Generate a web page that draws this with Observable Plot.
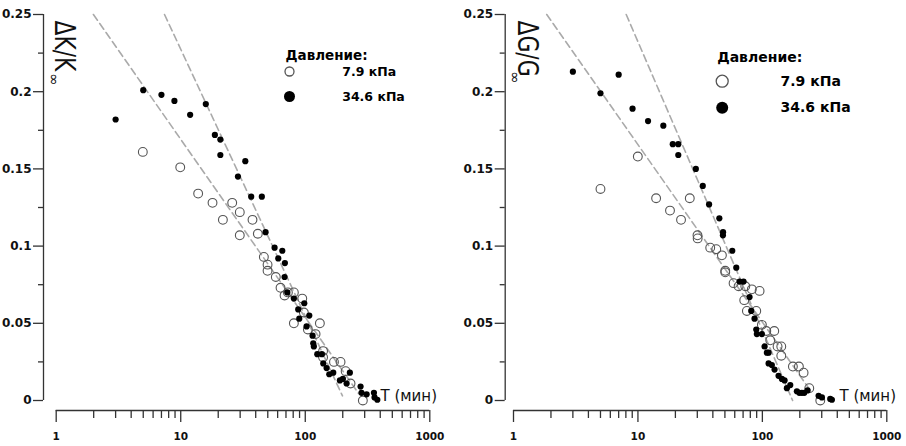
<!DOCTYPE html>
<html><head><meta charset="utf-8">
<script src="https://cdn.jsdelivr.net/npm/d3@7"></script>
<script src="https://cdn.jsdelivr.net/npm/@observablehq/plot@0.6"></script>
<style>
body{margin:0;background:#fff;}
#wrap{display:flex;width:906px;height:446px;}
</style></head><body><div id="wrap"></div>
<script>
// ---- axis ticks ----
const xTicks = [1, 10, 100, 1000];
const xTickLabels = ["1", "10", "100", "1000"];
const xMinor = [2,3,4,5,6,7,8,9,20,30,40,50,60,70,80,90,200,300,400,500,600,700,800,900];
const yTicks = [0, 0.05, 0.1, 0.15, 0.2, 0.25];
const yTickLabels = ["0", "0.05", "0.1", "0.15", "0.2", "0.25"];
const yMinor = [0.025, 0.075, 0.125, 0.175, 0.225];

// ---- texts ----
const legendTitle = "Давление:";
const seriesNames = ["7.9 кПа", "34.6 кПа"];
const xLabel = "T (мин)";
const yLabels = ["ΔK/K", "ΔG/G"];

// ---- ΔK/K∞ : 7.9 kPa (open) ----
const kLowT = [4.96,9.91,13.8,18.0,25.9,29.8,21.8,37.7,29.8,41.6,46.5,49.8,49.8,58.0,63.3,72.5,81.0,68.2,94.6,97.4,81.0,131,105,121,139,139,170,192,211,231,290];
const kLowV = [0.161,0.151,0.134,0.128,0.128,0.122,0.117,0.117,0.107,0.108,0.093,0.088,0.084,0.080,0.073,0.070,0.070,0.068,0.066,0.057,0.050,0.050,0.046,0.043,0.032,0.028,0.025,0.025,0.019,0.011,0.000];
// ---- ΔK/K∞ : 34.6 kPa (filled) ----
const kHighT = [3.0,5.0,7.0,8.9,11.9,15.9,18.8,20.8,20.8,33.0,28.8,36.8,44.8,48.0,56.7,65.4,60.7,68.6,68.2,71.7,81.0,87.8,98.2,89.5,107.7,102.4,114.4,115.9,117.2,124.9,135.9,139.5,148.3,155.9,167.8,189.7,200.5,214.7,228.1,278,283,311,356,360,379];
const kHighV = [0.182,0.201,0.198,0.194,0.185,0.192,0.172,0.169,0.159,0.155,0.145,0.132,0.132,0.109,0.099,0.097,0.092,0.089,0.080,0.070,0.066,0.059,0.063,0.053,0.055,0.048,0.042,0.037,0.035,0.030,0.030,0.024,0.021,0.017,0.018,0.013,0.014,0.011,0.018,0.009,0.005,0.004,0.005,0.002,0.0005];
// ---- ΔG/G∞ : 7.9 kPa (open) ----
const gLowT = [5.0,9.98,14.0,26.1,18.1,22.2,30.1,30.2,38.1,42.6,47.3,50.3,50.3,58.7,64.4,72.9,82.3,95.0,71.5,75.1,89.3,99.1,107.5,124.6,115.7,132.5,141.9,141.9,175.9,196.6,214.4,238.2,292];
const gLowV = [0.137,0.158,0.131,0.131,0.123,0.117,0.107,0.105,0.099,0.098,0.094,0.084,0.083,0.076,0.074,0.074,0.072,0.071,0.065,0.058,0.058,0.049,0.045,0.045,0.039,0.035,0.035,0.029,0.022,0.022,0.018,0.008,0.000];
// ---- ΔG/G∞ : 34.6 kPa (filled) ----
const gHighT = [3.0,5.0,7.0,9.05,12.06,16.0,19.05,21.1,21.1,29.2,33.2,37.3,45.1,48.3,48.2,57.3,61.7,65.6,70.6,78.9,81.4,86.5,89.3,90.3,99.1,104.2,108.7,112.2,112.2,119.2,125.3,134.9,143.5,150.8,157.4,167.6,189.4,198,207.7,217.2,230.8,283,301,351,362];
const gHighV = [0.213,0.199,0.211,0.189,0.181,0.178,0.166,0.166,0.159,0.150,0.139,0.127,0.118,0.109,0.107,0.097,0.086,0.077,0.077,0.067,0.058,0.053,0.046,0.043,0.043,0.035,0.031,0.031,0.024,0.023,0.020,0.016,0.014,0.013,0.008,0.010,0.006,0.005,0.005,0.005,0.0065,0.003,0.002,0.001,0.0005];

// ---- dashed guide lines (endpoints) ----
const kFitAT = [1.99, 268], kFitAV = [0.25, 0.0045];
const kFitBT = [7.41, 199], kFitBV = [0.25, 0.003];
const gFitAT = [1.85, 250], gFitAV = [0.25, 0.005];
const gFitBT = [8.05, 175], gFitBV = [0.25, 0.0];

const zip = (T, V) => T.map((t, i) => ({T: t, V: V[i]}));
const FONT = "'DejaVu Sans', Verdana, sans-serif";

function panel(cfg) {
  const fits = [
    ...zip(cfg.fitA[0], cfg.fitA[1]).map(d => ({...d, k: "A"})),
    ...zip(cfg.fitB[0], cfg.fitB[1]).map(d => ({...d, k: "B"}))
  ];
  const L = cfg.leg;
  const svg = Plot.plot({
    width: 453, height: 446,
    marginLeft: cfg.ml, marginRight: cfg.mr, marginTop: 14, marginBottom: 46,
    x: {type: "log", domain: [1, 1000]},
    y: {domain: [0, 0.25]},
    style: {fontFamily: FONT, background: "white", overflow: "visible"},
    marks: [
      // axes
      Plot.ruleX([1], {dx: cfg.ydx, stroke: "#333", strokeWidth: 1.3}),
      Plot.axisY(yTicks, {tickSize: 10, tickPadding: 2, dx: cfg.ydx, stroke: "#333", strokeWidth: 1.3,
        tickFormat: d => yTickLabels[yTicks.indexOf(d)], fontSize: 12, fontWeight: "bold", fill: "#111", label: null}),
      Plot.axisY(yMinor, {tickSize: 5, dx: cfg.ydx, stroke: "#333", strokeWidth: 1.3, tickFormat: () => "", label: null}),
      Plot.ruleY([0], {dy: 10, stroke: "#333", strokeWidth: 1.3}),
      Plot.axisX(xTicks, {tickSize: 12, tickPadding: 10, dy: 10, stroke: "#333", strokeWidth: 1.3,
        tickFormat: d => xTickLabels[xTicks.indexOf(d)], fontSize: 10.5, fontWeight: "bold", fill: "#111", label: null}),
      Plot.axisX(xMinor, {tickSize: 8, dy: 10, stroke: "#333", strokeWidth: 1.3, tickFormat: () => "", label: null}),
      // dashed guide lines
      Plot.line(fits, {x: "T", y: "V", z: "k", stroke: "#aaa", strokeWidth: 1.6, strokeDasharray: "7,4"}),
      // data
      Plot.dot(cfg.low, {x: "T", y: "V", r: 4.4, stroke: "#555", strokeWidth: 1.1, fill: "none"}),
      Plot.dot(cfg.high, {x: "T", y: "V", r: 3.1, fill: "#000", stroke: "none"}),
      // axis labels
      Plot.text([cfg.ylab], {frameAnchor: "top-left", dx: cfg.ylabDx, dy: 6, rotate: 90, textAnchor: "start",
        lineAnchor: "middle", fontSize: 28, fill: "#111", text: d => d}),
      Plot.text(["∞"], {frameAnchor: "top-left", dx: cfg.infDx, dy: cfg.infDy, rotate: 90, textAnchor: "middle",
        lineAnchor: "middle", fontSize: 15, fill: "#111", text: d => d}),
      Plot.text([xLabel], {frameAnchor: "bottom-left", dx: cfg.tDx, dy: -4, textAnchor: "start",
        lineAnchor: "middle", fontSize: 15, fill: "#111", text: d => d}),
      // legend
      Plot.text([legendTitle], {frameAnchor: "top-left", dx: L.tx, dy: L.ty, textAnchor: "start", lineAnchor: "middle",
        fontSize: L.fsT, fontWeight: "bold", fill: "#000", text: d => d}),
      Plot.dot([0], {frameAnchor: "top-left", dx: L.cx, dy: L.y1, r: L.r1, stroke: "#555", strokeWidth: 1.3, fill: "none"}),
      Plot.dot([0], {frameAnchor: "top-left", dx: L.cx, dy: L.y2, r: L.r2, fill: "#000"}),
      Plot.text([seriesNames[0]], {frameAnchor: "top-left", dx: L.lx, dy: L.y1, textAnchor: "start", lineAnchor: "middle",
        fontSize: L.fs, fontWeight: "bold", fill: "#000", text: d => d}),
      Plot.text([seriesNames[1]], {frameAnchor: "top-left", dx: L.lx, dy: L.y2, textAnchor: "start", lineAnchor: "middle",
        fontSize: L.fs, fontWeight: "bold", fill: "#000", text: d => d})
    ]
  });
  // condense the rotated y label along its reading direction
  d3.select(svg).selectAll("text").filter(function() { return this.textContent === cfg.ylab; })
    .each(function() {
      const t = this.getAttribute("transform");
      if (t) this.setAttribute("transform", t + " scale(0.78,1)");
    });
  return svg;
}

const wrap = document.getElementById("wrap");
wrap.appendChild(panel({
  ml: 55.7, mr: 23.7, ydx: -12.7,
  low: zip(kLowT, kLowV), high: zip(kHighT, kHighV),
  fitA: [kFitAT, kFitAV], fitB: [kFitBT, kFitBV],
  ylab: yLabels[0], ylabDx: 7.3, infDx: -2.2, infDy: 65, tDx: 324.3,
  leg: {tx: 229.3, ty: 41, cx: 233.3, y1: 57, y2: 82, r1: 4.5, r2: 5.5, lx: 286, fsT: 13.5, fs: 12.5}
}));
wrap.appendChild(panel({
  ml: 60, mr: 19.7, ydx: -8.3,
  low: zip(gLowT, gLowV), high: zip(gHighT, gHighV),
  fitA: [gFitAT, gFitAV], fitB: [gFitBT, gFitBV],
  ylab: yLabels[1], ylabDx: 13, infDx: 1.7, infDy: 63, tDx: 326,
  leg: {tx: 203.7, ty: 43.5, cx: 208.7, y1: 66.7, y2: 93.3, r1: 6, r2: 6, lx: 267, fsT: 14, fs: 14}
}));
</script></body></html>
